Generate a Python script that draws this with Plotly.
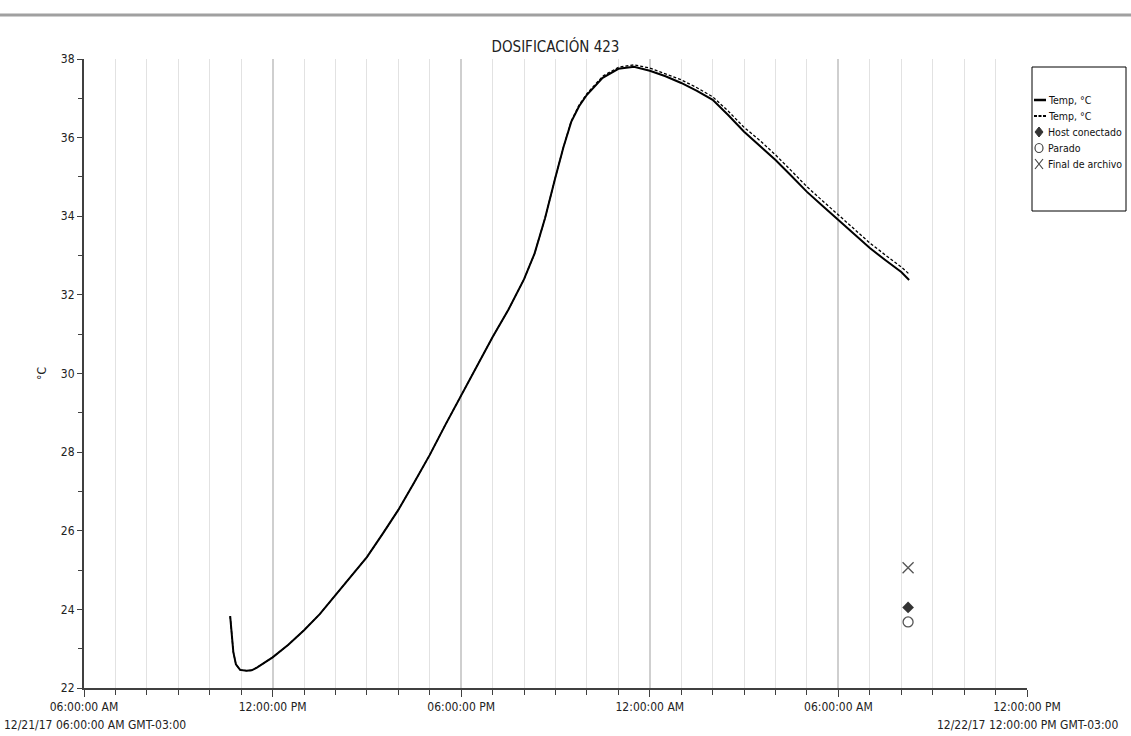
import plotly.graph_objects as go

# Logged probe readings (local time, GMT-03:00)
times = [
    "2017-12-21 10:39", "2017-12-21 10:42", "2017-12-21 10:45", "2017-12-21 10:50",
    "2017-12-21 10:58", "2017-12-21 11:10", "2017-12-21 11:20", "2017-12-21 11:30",
    "2017-12-21 11:45", "2017-12-21 12:00", "2017-12-21 12:30", "2017-12-21 13:00",
    "2017-12-21 13:30", "2017-12-21 14:00", "2017-12-21 14:30", "2017-12-21 15:00",
    "2017-12-21 15:30", "2017-12-21 16:00", "2017-12-21 16:30", "2017-12-21 17:00",
    "2017-12-21 17:30", "2017-12-21 18:00", "2017-12-21 18:30", "2017-12-21 19:00",
    "2017-12-21 19:30", "2017-12-21 20:00", "2017-12-21 20:20", "2017-12-21 20:40",
    "2017-12-21 21:00", "2017-12-21 21:15", "2017-12-21 21:30", "2017-12-21 21:45",
    "2017-12-21 22:00", "2017-12-21 22:30", "2017-12-21 23:00", "2017-12-21 23:30",
    "2017-12-22 00:00", "2017-12-22 00:30", "2017-12-22 01:00", "2017-12-22 01:30",
    "2017-12-22 02:00", "2017-12-22 02:30", "2017-12-22 03:00", "2017-12-22 03:30",
    "2017-12-22 04:00", "2017-12-22 04:30", "2017-12-22 05:00", "2017-12-22 05:30",
    "2017-12-22 06:00", "2017-12-22 06:30", "2017-12-22 07:00", "2017-12-22 07:30",
    "2017-12-22 08:00", "2017-12-22 08:15",
]

temp_a = [
    23.83, 23.30, 22.92, 22.60, 22.46, 22.44, 22.45, 22.52,
    22.64, 22.78, 23.10, 23.47, 23.88, 24.37, 24.83, 25.33,
    25.92, 26.53, 27.22, 27.93, 28.70, 29.45, 30.20, 30.93,
    31.62, 32.40, 33.05, 33.95, 35.00, 35.75, 36.40, 36.80,
    37.09, 37.52, 37.75, 37.80, 37.70, 37.56, 37.39, 37.19,
    36.96, 36.57, 36.15, 35.80, 35.43, 35.03, 34.62, 34.26,
    33.90, 33.55, 33.19, 32.88, 32.58, 32.38,
]

temp_b = [
    23.83, 23.30, 22.92, 22.60, 22.46, 22.44, 22.45, 22.52,
    22.64, 22.78, 23.10, 23.47, 23.88, 24.37, 24.83, 25.33,
    25.92, 26.53, 27.22, 27.93, 28.70, 29.45, 30.20, 30.93,
    31.62, 32.40, 33.05, 33.95, 35.00, 35.75, 36.42, 36.83,
    37.12, 37.56, 37.79, 37.85, 37.77, 37.63, 37.47, 37.27,
    37.04, 36.67, 36.26, 35.93, 35.56, 35.16, 34.75, 34.39,
    34.03, 33.68, 33.32, 33.01, 32.71, 32.53,
]

# Event markers
event_time = ["2017-12-22 08:13"]
host_conectado = [24.05]
parado = [23.68]
final_archivo = [25.06]

legend_labels = ["Temp, °C", "Temp, °C", "Host conectado", "Parado", "Final de archivo"]

FONT = "Liberation Sans Narrow, Arial Narrow, DejaVu Sans Condensed, sans-serif"
AXIS = "#404040"
W, H = 1131, 736
L, R, T, B = 84, 1027, 59, 688   # plot area in page pixels


def px(x):
    return (x - L) / (R - L)


def py(y):
    return (B - y) / (B - T)


fig = go.Figure()
fig.add_trace(go.Scatter(
    x=times, y=temp_a, mode="lines", name=legend_labels[0],
    line=dict(color="#000000", width=2),
))
fig.add_trace(go.Scatter(
    x=times, y=temp_b, mode="lines", name=legend_labels[1],
    line=dict(color="#000000", width=1.3, dash="3px,2px"),
))
fig.add_trace(go.Scatter(
    x=event_time, y=host_conectado, mode="markers", name=legend_labels[2],
    marker=dict(symbol="diamond", size=9, color="#333333"),
))
fig.add_trace(go.Scatter(
    x=event_time, y=parado, mode="markers", name=legend_labels[3],
    marker=dict(symbol="circle-open", size=10, color="#555555", line=dict(width=1.3)),
))
fig.add_trace(go.Scatter(
    x=event_time, y=final_archivo, mode="markers", name=legend_labels[4],
    marker=dict(symbol="x-thin-open", size=11, color="#555555", line=dict(width=1.3)),
))

# Boxed key at the right of the plot
fig.add_shape(type="rect", xref="paper", yref="paper",
              x0=px(1032), x1=px(1126), y0=py(211), y1=py(67),
              line=dict(color="#000000", width=1), fillcolor="rgba(0,0,0,0)")
rows = [100, 116, 132, 148, 164]
sx = 1039  # symbol centre
fig.add_shape(type="line", xref="paper", yref="paper",
              x0=px(1034), x1=px(1046), y0=py(rows[0]), y1=py(rows[0]),
              line=dict(color="#000000", width=2.5))
fig.add_shape(type="line", xref="paper", yref="paper",
              x0=px(1034), x1=px(1046), y0=py(rows[1]), y1=py(rows[1]),
              line=dict(color="#000000", width=2, dash="3px,1.5px"))
fig.add_shape(type="path", xref="paper", yref="paper",
              path=(f"M {px(sx)},{py(rows[2] - 5)} L {px(sx + 4)},{py(rows[2])} "
                    f"L {px(sx)},{py(rows[2] + 5)} L {px(sx - 4)},{py(rows[2])} Z"),
              fillcolor="#333333", line=dict(color="#333333", width=1))
fig.add_shape(type="circle", xref="paper", yref="paper",
              x0=px(sx - 4), x1=px(sx + 4), y0=py(rows[3] + 4.5), y1=py(rows[3] - 4.5),
              line=dict(color="#444444", width=1.2), fillcolor="rgba(0,0,0,0)")
fig.add_shape(type="path", xref="paper", yref="paper",
              path=(f"M {px(sx - 4)},{py(rows[4] - 5)} L {px(sx + 4)},{py(rows[4] + 5)} "
                    f"M {px(sx - 4)},{py(rows[4] + 5)} L {px(sx + 4)},{py(rows[4] - 5)}"),
              line=dict(color="#444444", width=1.2))
for label, ry in zip(legend_labels, rows):
    fig.add_annotation(text=label, xref="paper", yref="paper",
                       x=px(1046), y=py(ry), xanchor="left", yanchor="middle",
                       showarrow=False,
                       font=dict(family=FONT, size=10.5, color="#111111"))

# Header rule across the page
fig.add_shape(type="line", xref="paper", yref="paper",
              x0=px(0), x1=px(W), y0=py(15), y1=py(15),
              line=dict(color="#a0a0a0", width=3))

# Full date stamps under the first and last ticks
fig.add_annotation(text="12/21/17 06:00:00 AM GMT-03:00", xref="paper", yref="paper",
                   x=px(2), y=py(725), xanchor="left", yanchor="middle",
                   showarrow=False, font=dict(family=FONT, size=12, color="#222222"))
fig.add_annotation(text="12/22/17 12:00:00 PM GMT-03:00", xref="paper", yref="paper",
                   x=1.0, y=py(725), xanchor="center", yanchor="middle",
                   showarrow=False, font=dict(family=FONT, size=12, color="#222222"))

fig.update_layout(
    width=W, height=H,
    margin=dict(l=L, r=W - R, t=T, b=H - B, autoexpand=False),
    paper_bgcolor="white", plot_bgcolor="white",
    font=dict(family=FONT, size=12, color="#222222"),
    title=dict(text="DOSIFICACIÓN 423", x=0.5, xref="paper", xanchor="center",
               y=(H - 47) / H, yanchor="middle",
               font=dict(family=FONT, size=15, color="#222222")),
    showlegend=False,
)

fig.update_xaxes(
    type="date",
    range=["2017-12-21 06:00", "2017-12-22 12:00"],
    dtick=6 * 3600 * 1000, tick0="2017-12-21 06:00",
    tickformat="%I:%M:%S %p",
    showline=True, linecolor=AXIS, linewidth=2,
    ticks="outside", ticklen=7, tickcolor=AXIS, tickwidth=1,
    showgrid=True, gridcolor="#cfcfcf", gridwidth=2,
    minor=dict(dtick=3600 * 1000, ticks="outside", ticklen=5, tickcolor=AXIS,
               showgrid=True, gridcolor="#e2e2e2", gridwidth=1),
    zeroline=False,
    tickfont=dict(family=FONT, size=12, color="#222222"),
)
fig.update_yaxes(
    range=[22, 38], dtick=2,
    showline=True, linecolor=AXIS, linewidth=2,
    ticks="outside", ticklen=5, tickcolor=AXIS, tickwidth=1,
    minor=dict(dtick=1, ticks="outside", ticklen=4, tickcolor=AXIS),
    showgrid=False, zeroline=False,
    title=dict(text="°C", standoff=12, font=dict(family=FONT, size=12)),
    tickfont=dict(family=FONT, size=12, color="#222222"),
)

fig.write_html("out.html")
